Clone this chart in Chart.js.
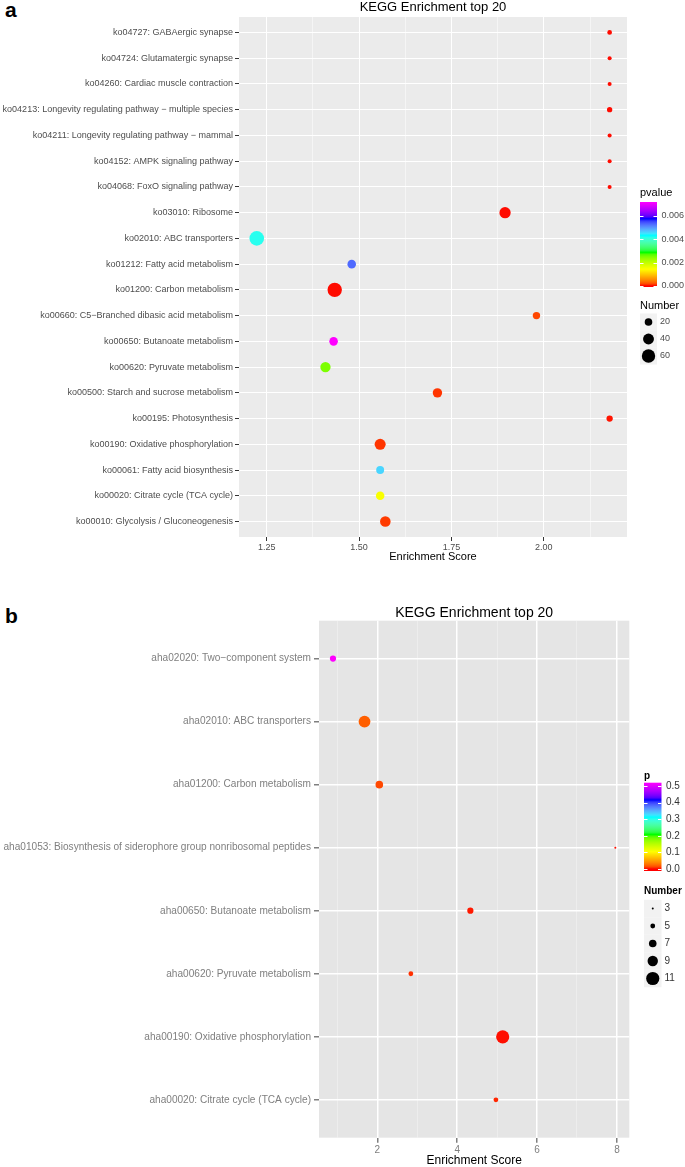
<!DOCTYPE html>
<html>
<head>
<meta charset="utf-8">
<script src="https://cdn.jsdelivr.net/npm/chart.js@4.4.1/dist/chart.umd.min.js"></script>
<style>
body{margin:0;background:#fff;width:685px;height:1167px;position:relative;overflow:hidden;font-family:"Liberation Sans",Arial,sans-serif}
.tag{position:absolute;left:5px;font-weight:bold;font-size:21px;line-height:21px;color:#000}
canvas{position:absolute;left:0}
</style>
</head>
<body>
<div class="tag" style="top:-1px">a</div>
<canvas id="chartA" width="685" height="568" style="top:0"></canvas>
<div class="tag" style="top:605px">b</div>
<canvas id="chartB" width="685" height="597" style="top:570px"></canvas>
<script>
// ---- panel a data (top row first) ----
const pathwaysA = [
  'ko04727: GABAergic synapse',
  'ko04724: Glutamatergic synapse',
  'ko04260: Cardiac muscle contraction',
  'ko04213: Longevity regulating pathway \u2212 multiple species',
  'ko04211: Longevity regulating pathway \u2212 mammal',
  'ko04152: AMPK signaling pathway',
  'ko04068: FoxO signaling pathway',
  'ko03010: Ribosome',
  'ko02010: ABC transporters',
  'ko01212: Fatty acid metabolism',
  'ko01200: Carbon metabolism',
  'ko00660: C5\u2212Branched dibasic acid metabolism',
  'ko00650: Butanoate metabolism',
  'ko00620: Pyruvate metabolism',
  'ko00500: Starch and sucrose metabolism',
  'ko00195: Photosynthesis',
  'ko00190: Oxidative phosphorylation',
  'ko00061: Fatty acid biosynthesis',
  'ko00020: Citrate cycle (TCA cycle)',
  'ko00010: Glycolysis / Gluconeogenesis'
];
const scoreA  = [2.178, 2.178, 2.178, 2.178, 2.178, 2.178, 2.178, 1.895, 1.223, 1.480, 1.434, 1.980, 1.431, 1.409, 1.712, 2.178, 1.557, 1.557, 1.557, 1.571];
const pvalueA = [0.00001, 0.00001, 0.00001, 0.00001, 0.00001, 0.00001, 0.00001, 0.00001, 0.0042, 0.0053, 0.00001, 0.00017, 0.0072, 0.0025, 0.0001, 0.00002, 0.0001, 0.0046, 0.0015, 0.00012];
const numberA = [8, 6, 6, 10, 6, 6, 6, 43, 71, 25, 69, 19, 25, 36, 30, 14, 41, 22, 25, 38];
const xTicksA = [1.25, 1.50, 1.75, 2.00];
const pBreaksA = [0.000, 0.002, 0.004, 0.006];
const numBreaksA = [20, 40, 60];

// ---- panel b data (top row first) ----
const pathwaysB = [
  'aha02020: Two\u2212component system',
  'aha02010: ABC transporters',
  'aha01200: Carbon metabolism',
  'aha01053: Biosynthesis of siderophore group nonribosomal peptides',
  'aha00650: Butanoate metabolism',
  'aha00620: Pyruvate metabolism',
  'aha00190: Oxidative phosphorylation',
  'aha00020: Citrate cycle (TCA cycle)'
];
const scoreB  = [0.89, 1.68, 2.05, 7.96, 4.33, 2.84, 5.14, 4.97];
const pvalueB = [0.52, 0.021, 0.0125, 0.001, 0.002, 0.006, 0.001, 0.004];
const numberB = [6, 10, 7, 3, 6, 5, 11, 5];
const xTicksB = [2, 4, 6, 8];
const pBreaksB = [0.0, 0.1, 0.2, 0.3, 0.4, 0.5];
const numBreaksB = [3, 5, 7, 9, 11];

const FONT = '"Liberation Sans", Arial, sans-serif';

// rainbow ramp interpolated in Lab, like ggplot's gradientn
const rampStops = [[255,0,0],[255,255,0],[0,255,0],[0,255,255],[0,0,255],[255,0,255]];
function toLab(c) {
  const lin = c.map(v => { v /= 255; return v <= 0.04045 ? v / 12.92 : Math.pow((v + 0.055) / 1.055, 2.4); });
  const X = (lin[0]*0.4124 + lin[1]*0.3576 + lin[2]*0.1805) / 0.95047;
  const Y = (lin[0]*0.2126 + lin[1]*0.7152 + lin[2]*0.0722);
  const Z = (lin[0]*0.0193 + lin[1]*0.1192 + lin[2]*0.9505) / 1.08883;
  const f = t => t > 0.008856 ? Math.cbrt(t) : 7.787 * t + 16 / 116;
  return [116 * f(Y) - 16, 500 * (f(X) - f(Y)), 200 * (f(Y) - f(Z))];
}
function fromLab(L) {
  const fy = (L[0] + 16) / 116, fx = fy + L[1] / 500, fz = fy - L[2] / 200;
  const fi = t => t * t * t > 0.008856 ? t * t * t : (t - 16 / 116) / 7.787;
  const X = fi(fx) * 0.95047, Y = fi(fy), Z = fi(fz) * 1.08883;
  const lin = [X*3.2406 - Y*1.5372 - Z*0.4986, -X*0.9689 + Y*1.8758 + Z*0.0415, X*0.0557 - Y*0.2040 + Z*1.0570];
  return lin.map(v => {
    v = v <= 0.0031308 ? 12.92 * v : 1.055 * Math.pow(Math.max(v, 0), 1 / 2.4) - 0.055;
    return Math.round(Math.max(0, Math.min(1, v)) * 255);
  });
}
const rampLab = rampStops.map(toLab);
function rampColor(t) {
  t = Math.max(0, Math.min(1, t)) * (rampLab.length - 1);
  const i = Math.min(Math.floor(t), rampLab.length - 2), f = t - i;
  const a = rampLab[i], b = rampLab[i + 1];
  const c = fromLab([a[0] + (b[0]-a[0])*f, a[1] + (b[1]-a[1])*f, a[2] + (b[2]-a[2])*f]);
  return 'rgb(' + c.join(',') + ')';
}

function dotPlot(id, P) {
  const step = P.xTicks[1] - P.xTicks[0];
  const gridVals = [];
  for (let v = P.xTicks[0] - step; v <= P.xMax + 1e-9; v += step / 2) {
    if (v >= P.xMin) gridVals.push(+v.toFixed(4));
  }
  const isMajor = v => P.xTicks.some(t => Math.abs(t - v) < 1e-6);

  const panelPlugin = {
    id: 'panel' + id,
    beforeDraw(chart) {
      const a = chart.chartArea, c = chart.ctx;
      c.save();
      c.fillStyle = P.panelBg;
      c.fillRect(a.left, a.top, a.right - a.left, a.bottom - a.top);
      c.restore();
    },
    afterDraw(chart) {
      const a = chart.chartArea, c = chart.ctx;
      const cx = (a.left + a.right) / 2;
      c.save();
      c.fillStyle = '#000';
      c.textAlign = 'center';
      c.textBaseline = 'middle';
      c.font = P.titleSize + 'px ' + FONT;
      c.fillText('KEGG Enrichment top 20', cx, P.titleY);
      c.font = P.axisTitleSize + 'px ' + FONT;
      c.fillText('Enrichment Score', cx, P.axisTitleY);

      // colour bar legend
      const L = P.legend;
      c.textAlign = 'left';
      c.font = (L.bold ? 'bold ' : '') + L.titleSize + 'px ' + FONT;
      c.fillStyle = '#000';
      c.fillText(L.pTitle, L.x, L.pTitleY);
      const yOf = v => L.y0 - v * L.pxPerUnit;
      const g = c.createLinearGradient(0, yOf(0), 0, yOf(P.pMax));
      for (let k = 0; k <= 40; k++) g.addColorStop(k / 40, rampColor(k / 40));
      c.fillStyle = g;
      c.fillRect(L.x, L.barTop, L.barW, L.barBottom - L.barTop);
      c.font = L.labelSize + 'px ' + FONT;
      P.pBreaks.forEach(v => {
        const y = Math.round(yOf(v)) + 0.5;
        c.strokeStyle = '#fff';
        c.lineWidth = 1;
        c.beginPath();
        c.moveTo(L.x, y); c.lineTo(L.x + 3.5, y);
        c.moveTo(L.x + L.barW - 3.5, y); c.lineTo(L.x + L.barW, y);
        c.stroke();
        c.fillStyle = L.labelColor;
        c.fillText(L.fmt(v), L.x + L.barW + 4.5, yOf(v));
      });

      // size legend
      c.font = (L.bold ? 'bold ' : '') + L.titleSize + 'px ' + FONT;
      c.fillStyle = '#000';
      c.fillText('Number', L.x, L.numTitleY);
      P.numBreaks.forEach((n, k) => {
        const y = L.key0 + k * L.keyStep;
        c.fillStyle = '#F2F2F2';
        c.fillRect(L.x, y - L.keyStep / 2, L.barW, L.keyStep);
        c.fillStyle = '#000';
        c.beginPath();
        c.arc(L.x + L.barW / 2, y, P.radius(n), 0, Math.PI * 2);
        c.fill();
        c.fillStyle = L.labelColor;
        c.font = L.labelSize + 'px ' + FONT;
        c.fillText(String(n), L.x + L.barW + 3, y);
      });
      c.restore();
    }
  };

  return new Chart(document.getElementById(id), {
    type: 'scatter',
    data: {
      datasets: [{
        data: P.score.map((s, i) => ({ x: s, y: i })),
        pointRadius: c => P.radius(P.number[c.dataIndex]),
        pointHoverRadius: c => P.radius(P.number[c.dataIndex]),
        pointBackgroundColor: c => rampColor(P.pvalue[c.dataIndex] / P.pMax),
        pointBorderWidth: 0
      }]
    },
    options: {
      responsive: false,
      animation: false,
      devicePixelRatio: 1,
      events: [],
      layout: { padding: { top: P.padTop, right: P.padRight, left: 0, bottom: 0 } },
      plugins: { legend: { display: false }, tooltip: { enabled: false }, title: { display: false } },
      scales: {
        x: {
          type: 'linear',
          min: P.xMin, max: P.xMax,
          afterBuildTicks: s => { s.ticks = gridVals.map(v => ({ value: v })); },
          afterFit: s => { s.height = P.xAxisH; },
          border: { display: false },
          grid: {
            color: c => isMajor(c.tick.value) ? '#fff' : P.minorColor,
            lineWidth: c => isMajor(c.tick.value) ? P.majorW : P.minorW,
            tickColor: c => isMajor(c.tick.value) ? P.tickColor : 'rgba(0,0,0,0)',
            tickLength: P.tickLen,
            drawTicks: true
          },
          ticks: {
            autoSkip: false, maxRotation: 0, padding: P.xTickPad,
            color: P.tickText,
            font: { family: FONT, size: P.tickSize },
            callback: v => isMajor(v) ? P.fmt(v) : ''
          }
        },
        y: {
          type: 'linear',
          reverse: true,
          min: -0.6, max: P.labels.length - 0.4,
          afterBuildTicks: s => { s.ticks = P.labels.map((_, i) => ({ value: i })); },
          afterFit: s => { s.width = P.yAxisW; },
          border: { display: false },
          grid: { color: '#fff', lineWidth: P.majorW, tickColor: P.tickColor, tickLength: P.tickLen, drawTicks: true },
          ticks: {
            autoSkip: false, padding: P.yTickPad,
            color: P.tickText,
            font: { family: FONT, size: P.labelSize },
            callback: v => P.labels[v]
          }
        }
      }
    },
    plugins: [panelPlugin]
  });
}

dotPlot('chartA', {
  labels: pathwaysA, score: scoreA, pvalue: pvalueA, number: numberA,
  xTicks: xTicksA, pBreaks: pBreaksA, numBreaks: numBreaksA,
  xMin: 1.175, xMax: 2.225, pMax: 0.0072,
  radius: n => 0.884 * Math.sqrt(n) - 0.15,
  fmt: v => v.toFixed(2),
  panelBg: '#EBEBEB', minorColor: '#fff', majorW: 1, minorW: 0.5,
  tickColor: '#333333', tickText: '#4D4D4D', tickSize: 9, labelSize: 9, xTickPad: 1,
  tickLen: 4, yTickPad: 2,
  padTop: 17, padRight: 58, yAxisW: 239, xAxisH: 31,
  titleSize: 13, titleY: 7, axisTitleSize: 11, axisTitleY: 557,
  legend: {
    x: 640, barW: 17, barTop: 202, barBottom: 287, y0: 286, pxPerUnit: 84 / 0.0072,
    pTitle: 'pvalue', pTitleY: 193, titleSize: 11, bold: false,
    labelSize: 9, labelColor: '#4D4D4D', fmt: v => v.toFixed(3),
    numTitleY: 306, key0: 322, keyStep: 17
  }
});

dotPlot('chartB', {
  labels: pathwaysB, score: scoreB, pvalue: pvalueB, number: numberB,
  xTicks: xTicksB, pBreaks: pBreaksB, numBreaks: numBreaksB,
  xMin: 0.54, xMax: 8.31, pMax: 0.52,
  radius: n => 0.7 * n - 1.1,
  fmt: v => String(v),
  panelBg: '#E5E5E5', minorColor: '#F2F2F2', majorW: 1.5, minorW: 0.6,
  tickColor: '#7F7F7F', tickText: '#7F7F7F', tickSize: 10, labelSize: 10.1, xTickPad: 2,
  tickLen: 5, yTickPad: 3,
  padTop: 50.7, padRight: 55.7, yAxisW: 319, xAxisH: 29.3,
  titleSize: 14, titleY: 42.7, axisTitleSize: 12, axisTitleY: 591,
  legend: {
    x: 644, barW: 17.5, barTop: 212.7, barBottom: 301, y0: 299, pxPerUnit: 166,
    pTitle: 'p', pTitleY: 206, titleSize: 10, bold: true,
    labelSize: 10, labelColor: '#333333', fmt: v => v.toFixed(1),
    numTitleY: 321.7, key0: 338.5, keyStep: 17.5
  }
});
</script>
</body>
</html>
